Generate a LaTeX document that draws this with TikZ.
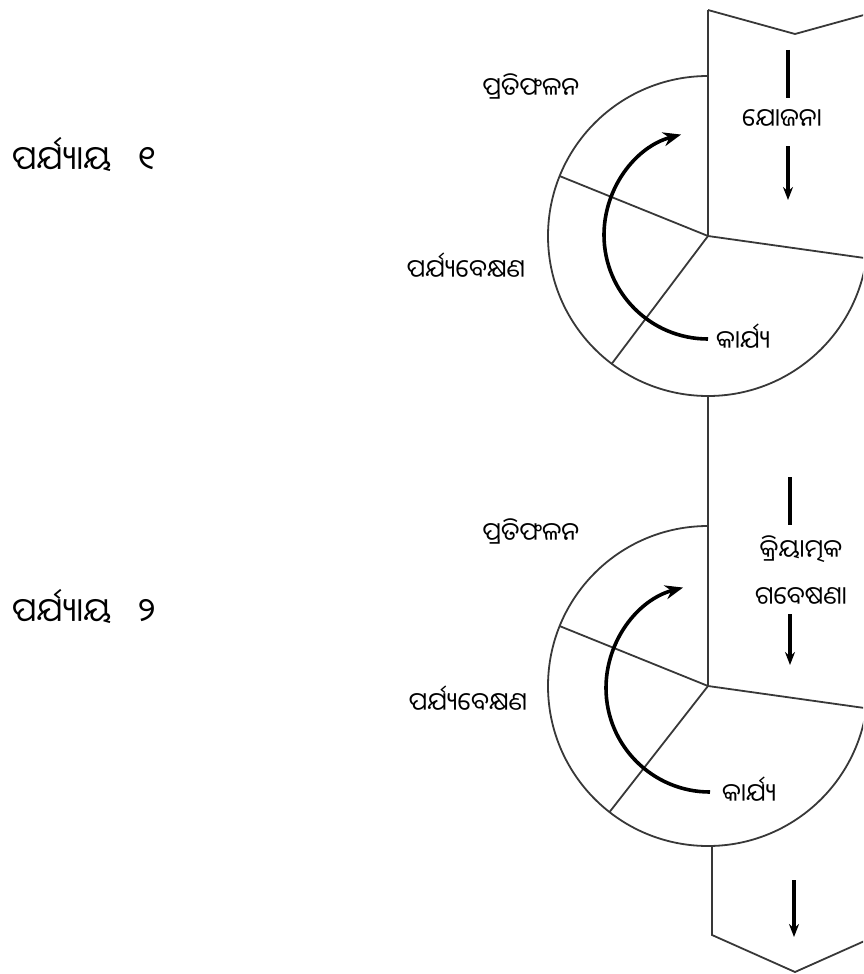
\documentclass[tikz,border=0pt]{standalone}
\usepackage{fontspec}
\newfontfamily\odia[Script=Oriya]{Noto Sans Oriya UI}
\usetikzlibrary{arrows.meta}

\tikzset{
  rim/.style={draw=black!78, line width=1.8pt},
  cyc/.style={draw=black, line width=3.6pt, -{Stealth[length=18pt, width=14pt]}},
  bar/.style={draw=black, line width=3.2pt},
  flow/.style={draw=black, line width=3.2pt, -{Stealth[length=13pt, width=10pt]}},
  lbl/.style={font=\odia\fontsize{25}{34}\selectfont, inner sep=0pt},
  tag/.style={lbl, text height=18pt, text depth=6pt},
  phase/.style={font=\odia\fontsize{33}{40}\selectfont, inner sep=0pt}
}

\begin{document}
\begin{tikzpicture}[x=1pt, y=1pt]
  \useasboundingbox (0,0) rectangle (863,-974);
  \clip (0,0) rectangle (863,-974);

  % Phases
  \node[phase, anchor=west] (phase1) at (12,-155) {ପର୍ଯ୍ୟାୟ\hspace{26pt}୧};
  \node[phase, anchor=west] (phase2) at (12,-607) {ପର୍ଯ୍ୟାୟ\hspace{26pt}୨};

  % Cycle 1
  \coordinate (c1) at (708,-236);
  \draw[rim] (708,-10) -- (795,-34) -- (882,-10);
  \draw[rim] (708,-10) -- (c1);
  \draw[rim] (c1) ++(90:160) arc[start angle=90, end angle=352, radius=160];
  \draw[rim] (c1) -- ++(158:160);
  \draw[rim] (c1) -- ++(233:160);
  \draw[rim] (c1) -- ++(352:160);

  \node[lbl] (refl1) at (531,-86) {ପ୍ରତିଫଳନ};
  \node[lbl] (obs1) at (466,-266) {ପର୍ଯ୍ୟବେକ୍ଷଣ};
  \node[lbl, anchor=west] (act1) at (716,-337) {କାର୍ଯ୍ୟ};
  \node[tag, inner ysep=12pt] (plan1) at (782,-122) {ଯୋଜନା};

  \coordinate (p1top) at (788,-50);
  \coordinate (p1end) at (788,-200);
  \draw[bar] (p1top) -- (p1top |- plan1.north);
  \draw[flow] (p1end |- plan1.south) -- (p1end);
  \draw[cyc] (act1.west) ++(-8,-2) arc[start angle=270, end angle=105, radius=104];

  % Cycle 2
  \coordinate (c2) at (708,-686);
  \draw[rim] (c1) ++(0,-160) -- (c2);
  \draw[rim] (c2) ++(90:160) arc[start angle=90, end angle=352, radius=160];
  \draw[rim] (c2) -- ++(158:160);
  \draw[rim] (c2) -- ++(232:160);
  \draw[rim] (c2) -- ++(352:160);
  \draw[rim] (712,-847) -- (712,-935) -- (795,-972) -- (878,-935);

  \node[lbl] (refl2) at (531,-531) {ପ୍ରତିଫଳନ};
  \node[lbl] (obs2) at (468,-699) {ପର୍ଯ୍ୟବେକ୍ଷଣ};
  \node[lbl, anchor=west] (act2) at (722,-790) {କାର୍ଯ୍ୟ};
  \node[tag, inner ysep=16pt] (plan2a) at (801,-553) {କ୍ରିୟାତ୍ମକ};
  \node[tag, inner ysep=2pt] (plan2b) at (801,-600) {ଗବେଷଣା};

  \coordinate (p2top) at (790,-477);
  \coordinate (p2end) at (790,-665);
  \draw[bar] (p2top) -- (p2top |- plan2a.north);
  \draw[flow] (p2end |- plan2b.south) -- (p2end);
  \draw[cyc] (act2.west) ++(-12,-2) arc[start angle=270, end angle=105, radius=104];

  % Out
  \coordinate (o1) at (794,-880);
  \coordinate (o2) at (794,-937);
  \draw[flow] (o1) -- (o2);
\end{tikzpicture}
\end{document}
